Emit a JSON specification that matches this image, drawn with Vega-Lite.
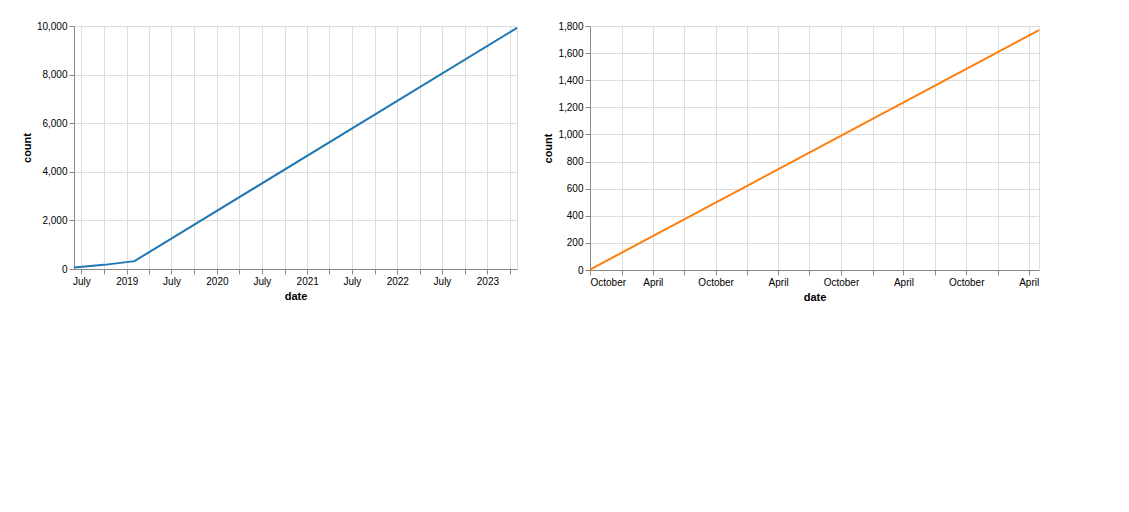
{
  "$schema": "https://vega.github.io/schema/vega-lite/v6.json",
  "padding": 20,
  "datasets": {
    "lm": [
      {"date": "2018-06-01", "count": 60},
      {"date": "2018-10-01", "count": 170},
      {"date": "2019-02-01", "count": 324},
      {"date": "2023-05-01", "count": 9922}
    ],
    "llm": [
      {"date": "2019-10-01", "count": 3},
      {"date": "2023-05-01", "count": 1770}
    ]
  },
  "hconcat": [
    {
      "width": 443,
      "height": 243,
      "data": {"name": "lm"},
      "mark": {"type": "line", "color": "#1f77b4", "strokeWidth": 2},
      "encoding": {
        "x": {"field": "date", "type": "temporal"},
        "y": {"field": "count", "type": "quantitative"}
      }
    },
    {
      "width": 449,
      "height": 244,
      "data": {"name": "llm"},
      "mark": {"type": "line", "color": "#ff7f0e", "strokeWidth": 2},
      "encoding": {
        "x": {"field": "date", "type": "temporal"},
        "y": {"field": "count", "type": "quantitative"}
      }
    }
  ]
}
